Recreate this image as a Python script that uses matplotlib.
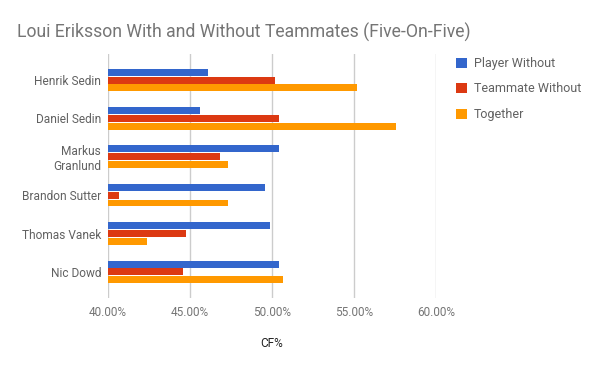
import matplotlib
matplotlib.use("Agg")
import matplotlib.pyplot as plt
import numpy as np

plt.rcParams['font.family'] = ['Roboto', 'DejaVu Sans']

players = ["Henrik Sedin", "Daniel Sedin", "Markus\nGranlund", "Brandon Sutter", "Thomas Vanek", "Nic Dowd"]
series_names = ["Player Without", "Teammate Without", "Together"]
player_without = [46.1, 45.6, 50.45, 49.6, 49.9, 50.45]
teammate_without = [50.2, 50.45, 46.85, 40.65, 44.75, 44.55]
together = [55.2, 57.55, 47.3, 47.3, 42.35, 50.65]
colors = ["#3366cc", "#dc3912", "#ff9900"]
xticks = [40, 45, 50, 55, 60]
xtick_labels = ["40.00%", "45.00%", "50.00%", "55.00%", "60.00%"]

fig = plt.figure(figsize=(6, 3.71), dpi=100)
ax = fig.add_axes([108/600, 1-298/371, (436-108)/600, (298-54)/371])

y = np.arange(len(players))
h = 0.18
off = 0.205
base = 40
for i, (vals, c) in enumerate(zip([player_without, teammate_without, together], colors)):
    ax.barh(y + (i - 1) * off, np.array(vals) - base, left=base, height=h, color=c,
            label=series_names[i], zorder=3)

ax.set_xlim(40, 60)
ax.set_ylim(5.68, -0.68)
ax.set_xticks(xticks)
ax.set_xticklabels(xtick_labels, color="#757575", fontsize=8.5)
ax.set_yticks(y)
ax.set_yticklabels(players, color="#616161", fontsize=8.6)
ax.tick_params(axis='y', length=0, pad=5)
ax.tick_params(axis='x', length=0, pad=6)
for s in ax.spines.values():
    s.set_visible(False)
ax.grid(axis='x', color="#cccccc", linewidth=1, zorder=0)
ax.set_axisbelow(True)

ax.set_xlabel("CF%", color="#222222", fontsize=8.5, labelpad=13)

fig.text(17/600, 1-38/371, "Loui Eriksson With and Without Teammates (Five-On-Five)",
         fontsize=12.7, color="#757575", ha="left", va="baseline")

leg = ax.legend(loc="upper left", bbox_to_anchor=(451/600, 1-52/371), bbox_transform=fig.transFigure,
                frameon=False, fontsize=9, handlelength=0.9, handleheight=0.9,
                labelspacing=1.0, handletextpad=0.55, borderaxespad=0)
for t in leg.get_texts():
    t.set_color("#616161")

fig.savefig("out.png", dpi=100)
